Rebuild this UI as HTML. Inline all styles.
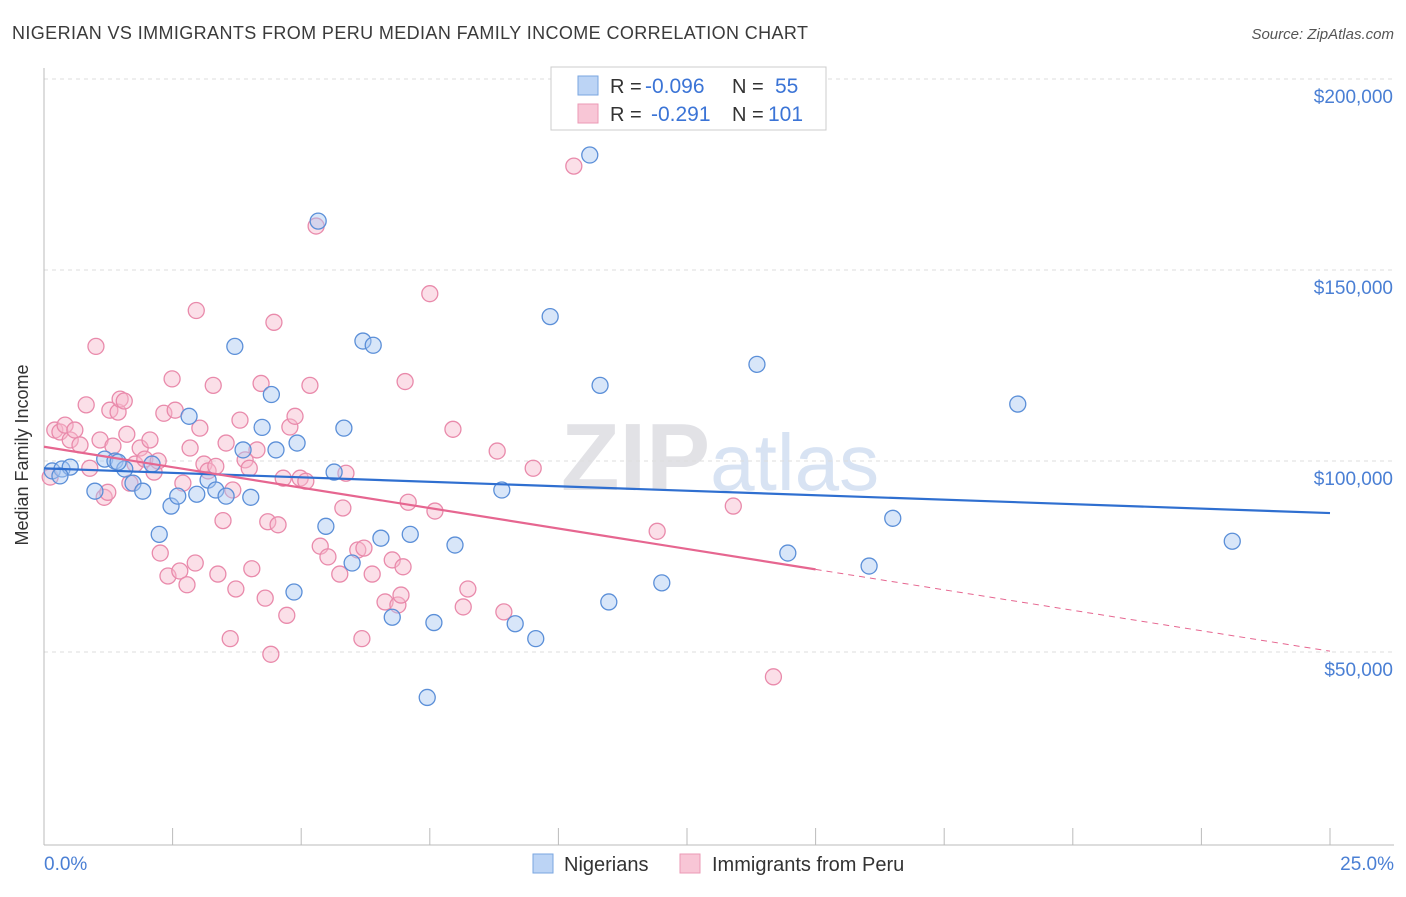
<!DOCTYPE html>
<html><head><meta charset="utf-8"><style>
body{margin:0;background:#fff;font-family:"Liberation Sans",sans-serif}
svg text{font-family:"Liberation Sans",sans-serif}
</style></head><body>
<svg id="c" width="1406" height="892">
<text x="12" y="39" font-size="18" fill="#3a3a3a" textLength="796">NIGERIAN VS IMMIGRANTS FROM PERU MEDIAN FAMILY INCOME CORRELATION CHART</text>
<text x="1394" y="39" font-size="15" fill="#555" font-style="italic" text-anchor="end">Source: ZipAtlas.com</text>
<text x="720" y="490" font-size="96" fill="#e6e6ea" text-anchor="middle" font-family="Liberation Serif"><tspan font-weight="bold" fill="#e2e2e6">ZIP</tspan><tspan fill="#d8e3f3" font-family="Liberation Sans" font-size="80">atlas</tspan></text>
<g id="grid"></g><g id="marks"></g>
<text x="28" y="455" font-size="18" fill="#333" text-anchor="middle" transform="rotate(-90 28 455)">Median Family Income</text>
<text x="44" y="870" font-size="19" fill="#4a7fd4">0.0%</text>
<text x="1394" y="870" font-size="19" fill="#4a7fd4" text-anchor="end">25.0%</text>
<g>
<rect x="551" y="67" width="275" height="63" fill="#fff" stroke="#ccc"/>
<rect x="578" y="76" width="20" height="19" fill="#bcd4f5" stroke="#7aa6e0"/>
<rect x="578" y="104" width="20" height="19" fill="#f8c6d6" stroke="#eb9ab5"/>
<text x="610" y="93" font-size="20" fill="#333">R =</text>
<text x="645" y="93" font-size="21" fill="#3b74d6">-0.096</text>
<text x="732" y="93" font-size="20" fill="#333">N =</text>
<text x="775" y="93" font-size="21" fill="#3b74d6">55</text>
<text x="610" y="121" font-size="20" fill="#333">R =</text>
<text x="651" y="121" font-size="21" fill="#3b74d6">-0.291</text>
<text x="732" y="121" font-size="20" fill="#333">N =</text>
<text x="768" y="121" font-size="21" fill="#3b74d6">101</text>
</g>
<g>
<rect x="533" y="854" width="20" height="19" fill="#bcd4f5" stroke="#7aa6e0"/>
<text x="564" y="871" font-size="20" fill="#333">Nigerians</text>
<rect x="680" y="854" width="20" height="19" fill="#f8c6d6" stroke="#eb9ab5"/>
<text x="712" y="871" font-size="20" fill="#333">Immigrants from Peru</text>
</g>
</svg>
<script>
const yTicks=[50000,100000,150000,200000];
const yTickLabels=["$50,000","$100,000","$150,000","$200,000"];
const blueX=[0.16,0.35,0.51,0.99,1.18,1.38,1.57,1.73,1.92,2.1,2.24,2.47,2.6,2.82,2.97,3.19,3.34,3.54,3.71,3.87,4.02,4.24,4.42,4.51,4.86,4.92,5.33,5.48,5.64,5.83,5.99,6.2,6.4,6.55,6.77,7.12,7.45,7.58,7.99,8.9,9.16,9.56,9.84,10.61,10.81,10.98,12.01,13.86,14.46,16.04,16.5,18.93,23.1,0.31,1.44];
const blueY=[97400,97900,98400,92100,100500,100000,97900,94200,92100,99200,80800,88200,90800,111700,91300,95000,92400,90800,130000,102900,90500,108800,117400,102900,65700,104700,162800,82900,97100,108600,73300,131400,130300,79800,59100,80800,38100,57700,78000,92400,57400,53500,137800,180100,119800,63100,68100,125300,75900,72500,85000,114900,79000,96100,99700];
const pinkX=[0.12,0.21,0.31,0.41,0.51,0.6,0.7,0.82,0.89,1.01,1.09,1.17,1.24,1.28,1.34,1.44,1.48,1.56,1.61,1.67,1.77,1.87,1.96,2.06,2.14,2.22,2.26,2.33,2.41,2.49,2.55,2.64,2.7,2.78,2.84,2.94,2.96,3.03,3.11,3.19,3.29,3.34,3.38,3.48,3.54,3.62,3.67,3.73,3.81,3.91,3.99,4.04,4.14,4.22,4.3,4.35,4.41,4.47,4.55,4.65,4.72,4.78,4.88,4.98,5.09,5.17,5.29,5.37,5.52,5.75,5.81,5.87,6.1,6.18,6.22,6.38,6.63,6.77,6.88,6.94,6.98,7.02,7.08,7.5,7.6,7.95,8.15,8.24,8.81,8.94,9.51,10.3,11.92,13.4,14.18];
const pinkY=[95800,108100,107600,109400,105500,108100,104200,114700,98100,130000,105500,90500,91800,113300,103900,112800,116200,115700,107000,94200,99200,103400,100500,105500,97100,100000,75900,112500,69900,121500,113300,71200,94200,67600,103400,73300,139400,108600,99200,97400,119800,98600,70400,84400,104700,53500,92400,66500,110700,100300,98100,71800,102900,120300,64100,84100,49400,136300,83300,95500,59600,108900,111700,95500,94700,119800,161500,77700,74900,70400,87700,96800,76700,53500,77200,70400,63100,74100,62300,64900,72300,120800,89200,143800,86900,108300,61800,66500,102600,60500,98100,177200,81600,88200,43500];
const bg="#4a7fd4";
const X0=44,X1=1330,Y0=843,YPX=191/50000;
const sx=p=>X0+(p/25)*(X1-X0);
const sy=v=>Y0-v*YPX;
const NS="http://www.w3.org/2000/svg";
const grid=document.getElementById('grid'),marks=document.getElementById('marks');
function mk(tag,attrs,parent){const e=document.createElementNS(NS,tag);for(const k in attrs)e.setAttribute(k,attrs[k]);parent.appendChild(e);return e;}
yTicks.forEach((t,i)=>{
 const l=mk('line',{x1:44,x2:1394,y1:sy(t),y2:sy(t),stroke:'#ddd','stroke-dasharray':'4,4'},grid);
 
 
 const tx=mk('text',{x:1393,y:sy(t)+24,'font-size':19,fill:bg,'text-anchor':'end'},grid);
 tx.textContent=yTickLabels[i];
 
 
});
const ax=mk('line',{x1:44,x2:1394,y1:845,y2:845,stroke:'#bbb'},grid);


const ay=mk('line',{x1:44,x2:44,y1:68,y2:845,stroke:'#bbb'},grid);


for(let i=0;i<=10;i++){const t=mk('line',{x1:sx(i*2.5),x2:sx(i*2.5),y1:828,y2:845,stroke:'#bbb'},grid);
 
 }
function dots(xs,ys,fill,stroke,name){xs.forEach((x,i)=>{
 const c=mk('circle',{cx:sx(x),cy:sy(ys[i]),r:8,fill:fill,'fill-opacity':0.45,stroke:stroke,'stroke-width':1.3},marks);
 
 });}
dots(pinkX,pinkY,'#f7b9cd','#e98aab','peru-point');
dots(blueX,blueY,'#a9c8f2','#5b8fd8','nigerian-point');
function fit(xs,ys){const n=xs.length;let mx=0,my=0;xs.forEach((x,i)=>{mx+=x;my+=ys[i]});mx/=n;my/=n;let a=0,b=0;xs.forEach((x,i)=>{a+=(x-mx)*(ys[i]-my);b+=(x-mx)*(x-mx)});const s=a/b;return x=>my+s*(x-mx);}
const fb=fit(blueX,blueY),fp=fit(pinkX,pinkY);
let l=mk('line',{x1:sx(0),y1:sy(fb(0)),x2:sx(25),y2:sy(fb(25)),stroke:'#2f6fd0','stroke-width':2.2},marks);


const pmax=15;
l=mk('line',{x1:sx(0),y1:sy(fp(0)),x2:sx(pmax),y2:sy(fp(pmax)),stroke:'#e66690','stroke-width':2.2},marks);


l=mk('line',{x1:sx(pmax),y1:sy(fp(pmax)),x2:sx(25),y2:sy(fp(25)),stroke:'#e66690','stroke-width':1,'stroke-dasharray':'6,5'},marks);


</script>
</body></html>
